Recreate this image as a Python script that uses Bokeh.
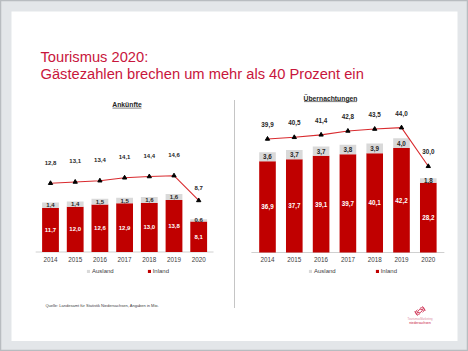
import math
from bokeh.plotting import figure
from bokeh.models import Range1d, ColumnDataSource, Legend, LegendItem
from bokeh.embed import file_html
from bokeh.resources import INLINE
from bokeh.core.properties import value

# ---------------- data ----------------
years = ["2014", "2015", "2016", "2017", "2018", "2019", "2020"]
ank_inland = [11.7, 12.0, 12.6, 12.9, 13.0, 13.8, 8.1]
ank_ausland = [1.4, 1.4, 1.5, 1.5, 1.6, 1.6, 0.6]
ank_total = [12.8, 13.1, 13.4, 14.1, 14.4, 14.6, 8.7]
ueb_inland = [36.9, 37.7, 39.1, 39.7, 40.1, 42.2, 28.2]
ueb_ausland = [3.6, 3.7, 3.7, 3.8, 3.9, 4.0, 1.8]
ueb_total = [39.9, 40.5, 41.4, 42.8, 43.5, 44.0, 30.0]
series_names = ["Ausland", "Inland"]
title_lines = ["Tourismus 2020:", "Gästezahlen brechen um mehr als 40 Prozent ein"]
chart_titles = ["Ankünfte", "Übernachtungen"]
source_note = "Quelle: Landesamt für Statistik Niedersachsen, Angaben in Mio."

# ---------------- style ----------------
W, H = 468, 351
FONT = "Liberation Sans"
RED_BAR = "#c00000"
GRAY_BAR = "#d9d9d9"
LINE_RED = "#d92b2f"
TITLE_RED = "#c8163c"


def fmt(v):
    return f"{v:.1f}".replace(".", ",")


p = figure(width=W, height=H, x_range=Range1d(0, W), y_range=Range1d(H, 0),
           x_axis_type=None, y_axis_type=None, toolbar_location=None,
           output_backend="svg", min_border=0)
p.background_fill_color = "#e3e6e9"
p.border_fill_color = "#e3e6e9"
p.outline_line_color = "#b8bcc0"
p.outline_line_width = 1.5

# white slide area
p.quad(left=11, right=457, top=11, bottom=340.5, fill_color="white", line_color=None)

# slide title
p.text(x=[40, 40], y=[56, 73.5], text=title_lines, text_color=TITLE_RED,
       text_font=value(FONT), text_font_size="14.7px", text_baseline="alphabetic")

# divider
p.segment(x0=[234], y0=[100], x1=[234], y1=[308], line_color="#8a8a8a",
          line_width=1, line_dash="1 1")

# source
p.text(x=[45], y=[305], text=[source_note], text_color="#404040",
       text_font=value(FONT), text_font_size="4px", text_baseline="middle")

# logo
cx, cy = 419.5, 310.5
for k in range(6):
    th = k * math.pi / 3
    p.arc(x=[cx + 1.8 * math.cos(th)], y=[cy + 1.8 * math.sin(th)], radius=3.3,
          start_angle=th, end_angle=th + 2.2, line_color=TITLE_RED, line_width=0.8)
p.text(x=[cx], y=[318.5], text=["TourismusMarketing"], text_color="#d98a9b",
       text_font=value(FONT), text_font_size="2.8px", text_align="center",
       text_baseline="middle")
p.text(x=[cx], y=[322], text=["niedersachsen"], text_color=TITLE_RED,
       text_font=value(FONT), text_font_size="3.3px", text_align="center",
       text_baseline="middle")


def chart(name, inland, ausland, total, title, x0, dx, base_px, kb, line_zero, kl,
          bar_w, label_dy, label_fs, title_xy, title_w, leg_x, leg_spacing, last_dy=None):
    n = len(years)
    idx = list(range(n))
    xr, yb, yl = name + "_x", name + "_b", name + "_l"
    p.extra_x_ranges[xr] = Range1d(-x0 / dx, (W - x0) / dx)
    sb = -(H - base_px) / kb
    p.extra_y_ranges[yb] = Range1d(sb, sb + H / kb)
    sl = -(H - line_zero) / kl
    p.extra_y_ranges[yl] = Range1d(sl, sl + H / kl)

    top = [a + b for a, b in zip(inland, ausland)]
    src = ColumnDataSource(dict(
        x=idx, inland=inland, top=top, total=total,
        mid_in=[v / 2 for v in inland],
        mid_au=[a + b / 2 for a, b in zip(inland, ausland)],
        lab_in=[fmt(v) for v in inland], lab_au=[fmt(v) for v in ausland],
        lab_tot=[fmt(v) for v in total], year=years,
        ypix=[259] * n,
    ))

    # axis line
    p.segment(x0=[-0.6], x1=[n - 0.4], y0=[0], y1=[0], x_range_name=xr,
              y_range_name=yb, line_color="#d0d0d0", line_width=1)

    r_in = p.vbar(x="x", bottom=0, top="inland", width=bar_w, source=src,
                  x_range_name=xr, y_range_name=yb, fill_color=RED_BAR, line_color=None)
    r_au = p.vbar(x="x", bottom="inland", top="top", width=bar_w, source=src,
                  x_range_name=xr, y_range_name=yb, fill_color=GRAY_BAR, line_color=None)

    p.text(x="x", y="mid_in", text="lab_in", source=src, x_range_name=xr,
           y_range_name=yb, text_color="white", text_font=value(FONT),
           text_font_style="bold", text_font_size=label_fs, text_align="center",
           text_baseline="middle")
    p.text(x="x", y="mid_au", text="lab_au", source=src, x_range_name=xr,
           y_range_name=yb, text_color="#262626", text_font=value(FONT),
           text_font_style="bold", text_font_size=label_fs, text_align="center",
           text_baseline="middle")

    p.line(x="x", y="total", source=src, x_range_name=xr, y_range_name=yl,
           line_color=LINE_RED, line_width=1.1)
    p.scatter(x="x", y="total", source=src, x_range_name=xr, y_range_name=yl,
              marker="triangle", size=4.3, fill_color="black", line_color="black")

    main = ColumnDataSource(dict(x=idx[:-1], y=total[:-1], t=[fmt(v) for v in total[:-1]]))
    last = ColumnDataSource(dict(x=idx[-1:], y=total[-1:], t=[fmt(v) for v in total[-1:]]))
    for s, dy in ((main, label_dy), (last, last_dy if last_dy is not None else label_dy)):
        p.text(x="x", y="y", text="t", source=s, x_range_name=xr, y_range_name=yl,
               y_offset=-dy, text_color="#262626", text_font=value(FONT),
               text_font_style="bold", text_font_size=label_fs, text_align="center",
               text_baseline="middle")

    p.text(x="x", y="ypix", text="year", source=src, x_range_name=xr,
           text_color="#404040", text_font=value(FONT), text_font_size="6.3px",
           text_align="center", text_baseline="middle")

    # chart title
    tx, ty = title_xy
    p.text(x=[tx], y=[ty], text=[title], text_color="#262626", text_font=value(FONT),
           text_font_style="bold", text_font_size="6.8px", text_align="center",
           text_baseline="middle")
    p.segment(x0=[tx - title_w / 2], x1=[tx + title_w / 2], y0=[ty + 3.3], y1=[ty + 3.3],
              line_color="#262626", line_width=0.6)

    leg = Legend(items=[LegendItem(label=series_names[0], renderers=[r_au]),
                        LegendItem(label=series_names[1], renderers=[r_in])],
                 location=(leg_x, H - 273.5), orientation="horizontal",
                 padding=0, margin=0, spacing=leg_spacing, label_standoff=2,
                 glyph_width=4, glyph_height=4, label_height=6,
                 label_text_font=FONT, label_text_font_size="6px",
                 label_text_color="#404040", background_fill_alpha=0,
                 border_line_color=None)
    p.add_layout(leg, "center")


chart("ank", ank_inland, ank_ausland, ank_total, chart_titles[0],
      x0=50, dx=24.7, base_px=251.5, kb=3.77, line_zero=236.5, kl=4.2,
      bar_w=0.68, label_dy=20.5, label_fs="6px", title_xy=(126.5, 104.3),
      title_w=29, leg_x=86, leg_spacing=33, last_dy=12.5)
chart("ueb", ueb_inland, ueb_ausland, ueb_total, chart_titles[1],
      x0=267, dx=26.8, base_px=252, kb=2.475, line_zero=248.6, kl=2.76,
      bar_w=0.62, label_dy=14.5, label_fs="6.3px", title_xy=(330, 97.8),
      title_w=53, leg_x=308, leg_spacing=39)

open("out.html", "w").write(file_html(p, INLINE))
